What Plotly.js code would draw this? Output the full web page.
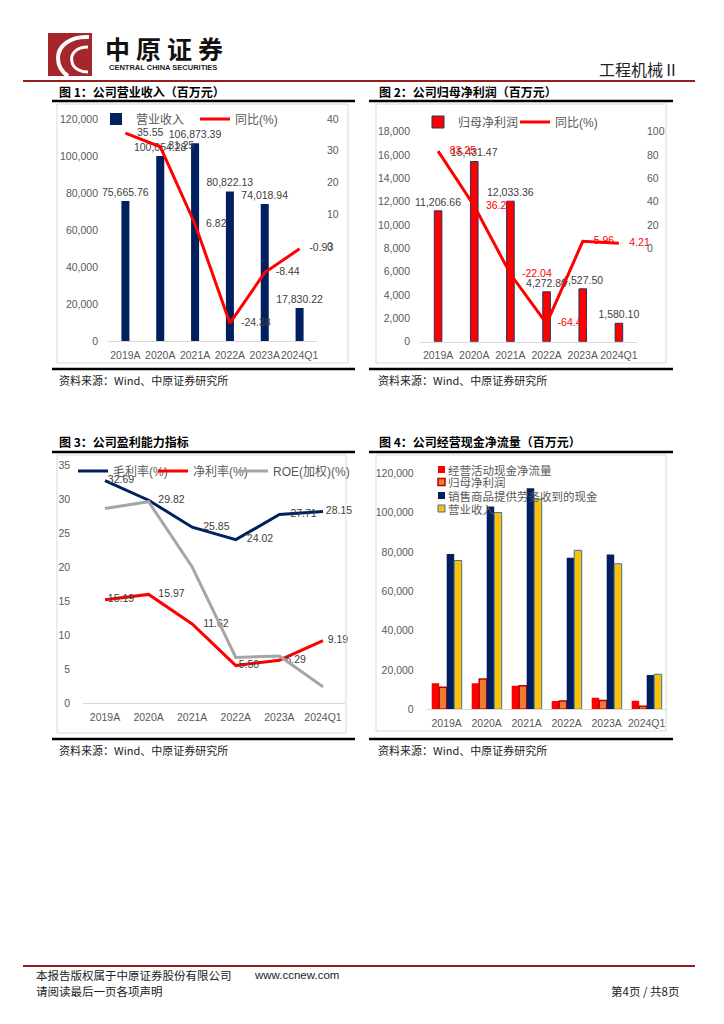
<!DOCTYPE html>
<html><head><meta charset="utf-8">
<script src="https://cdn.plot.ly/plotly-3.0.1.min.js"></script>
<style>html,body{margin:0;padding:0;background:#fff}#page{width:724px;height:1024px}</style>
</head><body><div id="page"></div>
<script>
// ---------- data ----------
const years = ['2019A','2020A','2021A','2022A','2023A','2024Q1'];
const revenue = [75665.76,100054.28,106873.39,80822.13,74018.94,17830.22];
const revenueYoY = [35.55,31.25,6.82,-24.38,-8.44,-0.93];
const netProfit = [11206.66,15431.47,12033.36,4272.80,4527.50,1580.10];
const netProfitYoY = [83.25,36.25,-22.04,-64.49,5.96,4.21];
const grossMargin = [32.69,29.82,25.85,24.02,27.71,28.15];
const netMargin = [15.19,15.97,11.62,5.50,6.29,9.19];
const roeWeighted = [28.6,29.6,20.0,6.7,6.9,2.4];
const opCashFlow = [13200,13200,12000,4200,5900,4400];
const salesCash = [79000,103100,112400,77100,78700,17400];
const revTicks = [0,20000,40000,60000,80000,100000,120000];
const revYoYTicksPos = [0,10,20,30,40];
const revYoYTicksNeg = [-10,-20,-30];
const npTicks = [0,2000,4000,6000,8000,10000,12000,14000,16000,18000];
const npYoYTicksPos = [0,20,40,60,80,100];
const npYoYTicksNeg = [-20,-40,-60,-80];
const marginTicks = [0,5,10,15,20,25,30,35];
const cashTicks = [0,20000,40000,60000,80000,100000,120000];
const legend4Names = ['经营活动现金净流量','归母净利润','销售商品提供劳务收到的现金','营业收入'];

// ---------- helpers ----------
const W = 724, H = 1024;
const px = x => x / W;
const py = y => 1 - y / H;
const LAT = 'Liberation Sans, Noto Sans CJK SC, sans-serif';
const CJK = 'Noto Sans CJK SC, sans-serif';
const GRAY = '#595959', DARK = '#404040';
const f2 = v => v.toFixed(2);
const fc = v => v.toLocaleString('en-US',{minimumFractionDigits:2,maximumFractionDigits:2});
const tickFont = {size:10.5, color:GRAY, family:LAT};
const lblFont = {size:10.5, color:DARK, family:LAT};

// label offsets (invisible marker sizes used only to push labels right of the points)
const off1 = [17,11,16,16,16,14];
const off2 = [17,17,17,16,16,15];
const off3g = [3,14,16,16,16,3];
const off3n = [3,14,16,3,8,6];
const ghost = s => ({size:s,color:'rgba(0,0,0,0)',line:{width:0,color:'rgba(0,0,0,0)'}});

const shapes = [];
const annotations = [];
function hline(x0,x1,y,color,w){shapes.push({type:'line',xref:'paper',yref:'paper',x0:px(x0),x1:px(x1),y0:py(y),y1:py(y),line:{color:color,width:w}});}
function rect(x0,y0,x1,y1,line,fill){shapes.push({type:'rect',xref:'paper',yref:'paper',x0:px(x0),x1:px(x1),y0:py(y1),y1:py(y0),line:line||{width:0},fillcolor:fill||'rgba(0,0,0,0)'});}
function path(cmds,color,w){
  const d = cmds.map(c => c[0] + c.slice(1).map((v,i)=> i%2===0 ? px(v) : py(v)).join(',')).join(' ');
  shapes.push({type:'path',xref:'paper',yref:'paper',path:d,line:{color:color,width:w}});
}
function note(text,x,y,font,xa){annotations.push({xref:'paper',yref:'paper',x:px(x),y:py(y),text:text,showarrow:false,xanchor:xa||'left',yanchor:'middle',font:font});}

// ---------- page furniture ----------
rect(48,33,92,76,{width:0},'#a5262b');
path([['M',89,37],['C',70,36,58,46,58,58],['C',58,66,62,72,68,76]],'#ffffff',4);
path([['M',88,47],['C',76,47,70,54,72,62],['C',73,68,80,72,88,72]],'#ffffff',3);
['中','原','证','券'].forEach((c,i)=>note('<b>'+c+'</b>',117+i*31,48,{size:25,color:'#111',family:CJK},'center'));
note('<b>CENTRAL CHINA SECURITIES</b>',163,67.5,{size:7.5,color:'#222',family:'Liberation Sans'},'center');
note('工程机械Ⅱ',681,69,{size:16,color:'#222',family:CJK},'right');
hline(23,695,81,'#9b1c1f',2);

const titleFont = {size:12,color:'#000',family:CJK};
const srcFont = {size:11,color:'#222',family:CJK};
note('<b>图 1：公司营业收入（百万元）</b>',57,91,titleFont);
note('<b>图 2：公司归母净利润（百万元）</b>',377,91,titleFont);
note('<b>图 3：公司盈利能力指标</b>',57,441,titleFont);
note('<b>图 4：公司经营现金净流量（百万元）</b>',377,441,titleFont);
hline(52,355,101,'#000',2.5); hline(369,673,101,'#000',2.5);
hline(52,355,369,'#000',2.5); hline(369,673,369,'#000',2.5);
hline(52,355,452,'#000',2.5); hline(369,673,452,'#000',2.5);
hline(52,355,739,'#000',2.5); hline(369,673,739,'#000',2.5);
rect(57,104,348,363,{color:'#d9d9d9',width:1});
rect(376,104,666,363,{color:'#d9d9d9',width:1});
rect(57,455,346,733,{color:'#d9d9d9',width:1});
rect(376,455,666,731,{color:'#d9d9d9',width:1});
note('资料来源：Wind、中原证券研究所',57,380,srcFont);
note('资料来源：Wind、中原证券研究所',376,380,srcFont);
note('资料来源：Wind、中原证券研究所',57,750,srcFont);
note('资料来源：Wind、中原证券研究所',376,750,srcFont);

hline(23,695,966,'#9b1c1f',2);
note('本报告版权属于中原证券股份有限公司',34,975,{size:11.5,color:'#222',family:CJK});
note('www.ccnew.com',252,975,{size:11.5,color:'#222',family:'Liberation Sans'});
note('请阅读最后一页各项声明',34,991,{size:11.5,color:'#222',family:CJK});
note('第4页 / 共8页',681,991,{size:11.5,color:'#222',family:CJK},'right');

// chart 4 legend (compact, drawn by hand)
const leg4Y = [469.5,482,495.5,508.5];
rect(438,leg4Y[0]-3.5,445,leg4Y[0]+3.5,{width:0},'#ff0000');
rect(438,leg4Y[1]-3.5,445,leg4Y[1]+3.5,{color:'#c00000',width:1.5},'#ed7d31');
rect(438,leg4Y[2]-3.5,445,leg4Y[2]+3.5,{width:0},'#002060');
rect(438,leg4Y[3]-3.5,445,leg4Y[3]+3.5,{color:'#2e75b6',width:1},'#ffc000');
legend4Names.forEach((n,i)=>note(n,446,leg4Y[i],{size:11.5,color:GRAY,family:CJK}));

// ---------- traces ----------
const traces = [
  {type:'bar',x:years,y:revenue,xaxis:'x',yaxis:'y',name:'营业收入',legend:'legend',
   marker:{color:'#002060'},width:0.23,text:revenue.map(fc),textposition:'outside',
   textfont:lblFont,constraintext:'none',cliponaxis:false,hoverinfo:'skip'},
  {type:'scatter',mode:'lines+markers+text',x:years,y:revenueYoY,xaxis:'x',yaxis:'y2',name:'同比(%)',legend:'legend',
   line:{color:'#ff0000',width:3},marker:ghost(off1),text:revenueYoY.map(f2),
   textposition:'middle right',textfont:lblFont,cliponaxis:false,hoverinfo:'skip'},
  {type:'bar',x:years,y:netProfit,xaxis:'x2',yaxis:'y4',name:'归母净利润',legend:'legend2',
   marker:{color:'#ff0000',line:{color:'#1f3864',width:1}},width:0.21,text:netProfit.map(fc),textposition:'outside',
   textfont:lblFont,constraintext:'none',cliponaxis:false,hoverinfo:'skip'},
  {type:'scatter',mode:'lines+markers+text',x:years,y:netProfitYoY,xaxis:'x2',yaxis:'y5',name:'同比(%)',legend:'legend2',
   line:{color:'#ff0000',width:3},marker:ghost(off2),text:netProfitYoY.map(f2),
   textposition:'middle right',textfont:{size:10.5,color:'#ff0000',family:LAT},cliponaxis:false,hoverinfo:'skip'},
  {type:'scatter',mode:'lines+markers+text',x:years,y:grossMargin,xaxis:'x3',yaxis:'y7',name:'毛利率(%)',legend:'legend3',
   line:{color:'#002060',width:3},marker:ghost(off3g),text:grossMargin.map(f2),
   textposition:'middle right',textfont:lblFont,cliponaxis:false,hoverinfo:'skip'},
  {type:'scatter',mode:'lines+markers+text',x:years,y:netMargin,xaxis:'x3',yaxis:'y7',name:'净利率(%)',legend:'legend3',
   line:{color:'#ff0000',width:3},marker:ghost(off3n),text:netMargin.map(f2),
   textposition:'middle right',textfont:lblFont,cliponaxis:false,hoverinfo:'skip'},
  {type:'scatter',mode:'lines',x:years,y:roeWeighted,xaxis:'x3',yaxis:'y7',name:'ROE(加权)(%)',legend:'legend3',legendwidth:80,
   line:{color:'#a6a6a6',width:3},cliponaxis:false,hoverinfo:'skip'},
  {type:'bar',x:years,y:opCashFlow,xaxis:'x4',yaxis:'y8',name:legend4Names[0],showlegend:false,
   marker:{color:'#ff0000'},hoverinfo:'skip'},
  {type:'bar',x:years,y:netProfit,xaxis:'x4',yaxis:'y8',name:legend4Names[1],showlegend:false,
   marker:{color:'#ed7d31',line:{color:'#c00000',width:1.5}},hoverinfo:'skip'},
  {type:'bar',x:years,y:salesCash,xaxis:'x4',yaxis:'y8',name:legend4Names[2],showlegend:false,
   marker:{color:'#002060'},hoverinfo:'skip'},
  {type:'bar',x:years,y:revenue,xaxis:'x4',yaxis:'y8',name:legend4Names[3],showlegend:false,
   marker:{color:'#ffc000',line:{color:'#2e75b6',width:1}},hoverinfo:'skip'}
];

// ---------- axes ----------
function xax(d0,d1,anchor){return {domain:[px(d0),px(d1)],anchor:anchor,type:'category',range:[-0.5,5.5],tickangle:0,
  showline:true,linecolor:'#d9d9d9',linewidth:1,ticks:'',showgrid:false,zeroline:false,tickfont:tickFont,ticklabelstandoff:4};}
function yax(extra){return Object.assign({showgrid:false,zeroline:false,showline:false,ticks:'',tickfont:tickFont,ticklabelstandoff:9},extra);}

const layout = {
  width:W,height:H,margin:{l:0,r:0,t:0,b:0},paper_bgcolor:'#fff',plot_bgcolor:'rgba(0,0,0,0)',
  font:{family:LAT,color:GRAY},
  barmode:'group',bargap:0.25,bargroupgap:0,showlegend:true,
  xaxis:xax(108,317,'y'),
  yaxis:yax({domain:[py(341),py(119)],anchor:'x',range:[0,120000],tickvals:revTicks,tickformat:','}),
  yaxis2:yax({overlaying:'y',anchor:'x',side:'right',range:[-30,40],tickvals:revYoYTicksPos}),
  yaxis3:yax({overlaying:'y',anchor:'x',side:'right',range:[-30,40],tickvals:revYoYTicksNeg,tickfont:{size:10.5,color:'#ff0000',family:LAT}}),
  xaxis2:xax(420,637,'y4'),
  yaxis4:yax({domain:[py(341.7),py(131.5)],anchor:'x2',range:[0,18000],tickvals:npTicks,tickformat:','}),
  yaxis5:yax({overlaying:'y4',anchor:'x2',side:'right',range:[-80,100],tickvals:npYoYTicksPos}),
  yaxis6:yax({overlaying:'y4',anchor:'x2',side:'right',range:[-80,100],tickvals:npYoYTicksNeg,tickfont:{size:10.5,color:'#ff0000',family:LAT}}),
  xaxis3:xax(83.2,344.8,'y7'),
  yaxis7:yax({domain:[py(703),py(465)],anchor:'x3',range:[0,35],tickvals:marginTicks,ticklabelstandoff:12}),
  xaxis4:xax(426.7,666.7,'y8'),
  yaxis8:yax({domain:[py(709.3),py(473.3)],anchor:'x4',range:[0,120000],tickvals:cashTicks,tickformat:',',ticklabelstandoff:12}),
  legend:{x:px(96),y:py(119),xanchor:'left',yanchor:'middle',orientation:'h',entrywidth:54,bgcolor:'rgba(0,0,0,0)',font:{size:12,color:GRAY,family:LAT}},
  legend2:{x:px(418),y:py(122),xanchor:'left',yanchor:'middle',orientation:'h',entrywidth:52,bgcolor:'rgba(0,0,0,0)',font:{size:12,color:GRAY,family:LAT}},
  legend3:{x:px(73),y:py(471),xanchor:'left',yanchor:'middle',orientation:'h',entrywidth:35,bgcolor:'rgba(0,0,0,0)',font:{size:12,color:GRAY,family:LAT}},
  shapes:shapes,annotations:annotations
};

Plotly.newPlot('page',traces,layout,{staticPlot:true,displayModeBar:false});
</script>
</body></html>
